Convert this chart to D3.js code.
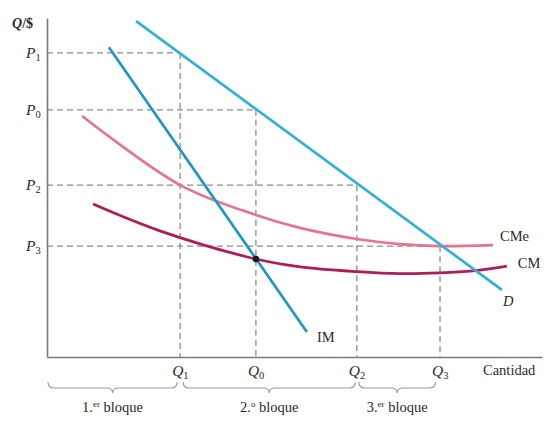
<!DOCTYPE html>
<html><head><meta charset="utf-8">
<script src="https://cdn.jsdelivr.net/npm/d3@7"></script>
<style>
html,body{margin:0;padding:0;background:#fff;}
svg text{font-family:"Liberation Serif","DejaVu Serif",serif;fill:#2a2a2a;}
</style></head>
<body><svg id="c" width="557" height="429"></svg>
<script>
// ---- data (abstract units) ----
const qTicks = [26.9, 42.2, 62.6, 79.4];
const qLabels = ["1", "0", "2", "3"];          // Q subscripts
const pTicks = [89.7, 72.9, 50.7, 32.7];
const pLabels = ["1", "0", "2", "3"];          // P subscripts
const demandX = [18.0, 91.9];
const demandY = [99.1, 19.8];
const imX = [12.5, 52.5];
const imY = [91.4, 7.4];
const cmeX = [7.1, 26.9, 42.2, 51.1, 62.6, 71.3, 79.4, 90.1];
const cmeY = [71.1, 50.7, 41.9, 38.1, 34.8, 33.3, 32.7, 33.0];
const cmX = [9.3, 22.8, 42.2, 51.1, 62.6, 71.3, 79.4, 86.1, 92.9];
const cmY = [45.1, 37.2, 28.9, 26.6, 25.2, 24.6, 24.8, 25.4, 26.8];
const optimum = [42.2, 28.9];
const blockEdges = [[0.2, 26.3], [27.5, 62.3], [63.0, 78.5]];
const blockNames = [["1.", "er", " bloque"], ["2.", "o", " bloque"], ["3.", "er", " bloque"]];

// ---- drawing ----
const svg = d3.select("#c");
const x = d3.scaleLinear().domain([0, 100]).range([47, 542]);
const y = d3.scaleLinear().domain([0, 100]).range([357, 18]);

const grey = "#8c8c8c";

// dashed guides
pTicks.forEach((p, i) => {
  const q = qTicks[i];
  svg.append("line").attr("x1", x(0)).attr("x2", x(q)).attr("y1", y(p)).attr("y2", y(p))
    .attr("stroke", grey).attr("stroke-width", 1.3).attr("stroke-dasharray", "6,4");
  svg.append("line").attr("x1", x(q)).attr("x2", x(q)).attr("y1", y(p)).attr("y2", y(0))
    .attr("stroke", grey).attr("stroke-width", 1.3).attr("stroke-dasharray", "6,4");
});

// axes
svg.append("g").attr("transform", `translate(0,${y(0)})`)
  .call(d3.axisBottom(x).tickValues([]).tickSize(0).tickSizeOuter(0));
svg.append("g").attr("transform", `translate(${x(0)},0)`)
  .call(d3.axisLeft(y).tickValues([]).tickSize(0).tickSizeOuter(0));
svg.selectAll(".domain").attr("stroke", "#7a7a7a").attr("stroke-width", 1.6);

const line = d3.line().x(d => x(d[0])).y(d => y(d[1]));
const curve = d3.line().x(d => x(d[0])).y(d => y(d[1])).curve(d3.curveCatmullRom.alpha(0.5));

svg.append("path").attr("d", curve(cmeX.map((v, i) => [v, cmeY[i]])))
  .attr("fill", "none").attr("stroke", "#e8738b").attr("stroke-width", 2.7);
svg.append("path").attr("d", curve(cmX.map((v, i) => [v, cmY[i]])))
  .attr("fill", "none").attr("stroke", "#b31a58").attr("stroke-width", 2.7);
svg.append("path").attr("d", line(demandX.map((v, i) => [v, demandY[i]])))
  .attr("fill", "none").attr("stroke", "#2eb0da").attr("stroke-width", 2.7);
svg.append("path").attr("d", line(imX.map((v, i) => [v, imY[i]])))
  .attr("fill", "none").attr("stroke", "#1e96c6").attr("stroke-width", 2.7);

svg.append("circle").attr("cx", x(optimum[0])).attr("cy", y(optimum[1])).attr("r", 3.3).attr("fill", "#1a1a1a");

// curve labels
const lab = (px, py, t, italic) => svg.append("text").attr("x", px).attr("y", py)
  .attr("font-size", 14.5).attr("font-style", italic ? "italic" : "normal").text(t);
lab(x(imX[1]) + 10, y(imY[1]) + 10, "IM");
lab(x(cmeX[cmeX.length - 1]) + 7, y(cmeY[cmeY.length - 1]) - 4, "CMe");
lab(x(cmX[cmX.length - 1]) + 11, y(cmY[cmY.length - 1]) + 2, "CM");
lab(x(demandX[1]) + 1, y(demandY[1]) + 16, "D", true);

// y title
const yt = svg.append("text").attr("x", 12).attr("y", 28).attr("font-size", 14).attr("font-weight", "bold");
yt.append("tspan").attr("font-style", "italic").text("Q");
yt.append("tspan").text("/$");

// P tick labels
pTicks.forEach((p, i) => {
  const t = svg.append("text").attr("x", 26).attr("y", y(p) + 5).attr("font-size", 15.5).attr("font-style", "italic");
  t.append("tspan").text("P");
  t.append("tspan").attr("font-size", 10.5).attr("font-style", "normal").attr("dy", 3).text(pLabels[i]);
});
// Q tick labels
qTicks.forEach((q, i) => {
  const t = svg.append("text").attr("x", x(q) - 8).attr("y", 376).attr("font-size", 15.5).attr("font-style", "italic");
  t.append("tspan").text("Q");
  t.append("tspan").attr("font-size", 10.5).attr("font-style", "normal").attr("dy", 3).text(qLabels[i]);
});
svg.append("text").attr("x", 483).attr("y", 375).attr("font-size", 14.5).text("Cantidad");

// braces
const yTop = 382, yMid = 388, yTip = 393, r = 6;
blockEdges.forEach((b, i) => {
  const x1 = x(b[0]), x2 = x(b[1]), xm = (x1 + x2) / 2;
  const p = d3.path();
  p.moveTo(x1, yTop);
  p.quadraticCurveTo(x1, yMid, x1 + r, yMid);
  p.lineTo(xm - r, yMid);
  p.quadraticCurveTo(xm, yMid, xm, yTip);
  p.quadraticCurveTo(xm, yMid, xm + r, yMid);
  p.lineTo(x2 - r, yMid);
  p.quadraticCurveTo(x2, yMid, x2, yTop);
  svg.append("path").attr("d", p.toString()).attr("fill", "none").attr("stroke", "#9a9a9a").attr("stroke-width", 1.1);
  const t = svg.append("text").attr("x", xm).attr("y", 412).attr("font-size", 14.5).attr("text-anchor", "middle");
  t.append("tspan").text(blockNames[i][0]);
  t.append("tspan").attr("font-size", 9).attr("dy", -5).text(blockNames[i][1]);
  t.append("tspan").attr("dy", 5).text(blockNames[i][2]);
});
</script></body></html>
